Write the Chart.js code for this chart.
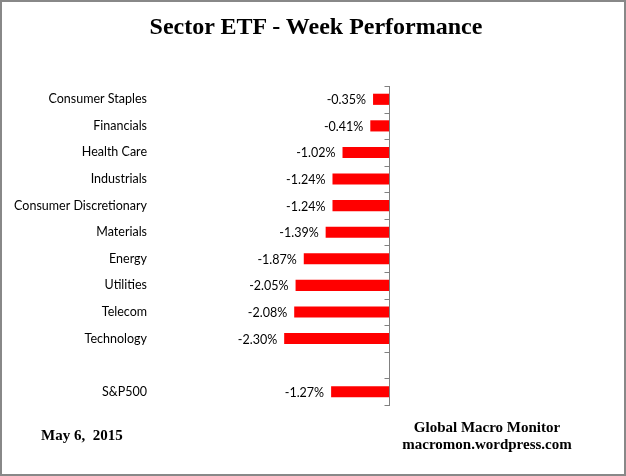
<!DOCTYPE html>
<html>
<head>
<meta charset="utf-8">
<script src="https://cdn.jsdelivr.net/npm/chart.js@4.4.1/dist/chart.umd.min.js"></script>
<style>
    body { margin: 0; background: #fff; }
    #wrap { position: absolute; left: 0; top: 0; width: 626px; height: 476px; }
    #frame { position: absolute; left: 0; top: 0; width: 626px; height: 476px; box-sizing: border-box; border: 2px solid #888; pointer-events: none; }
    .serif { position: absolute; font-family: "Liberation Serif", "Times New Roman", serif; font-weight: bold; color: #000; white-space: nowrap; }
    #title { left: 0; width: 632px; top: 13px; text-align: center; font-size: 24px; }
    #date { left: 41px; top: 427px; font-size: 15px; }
    #source { left: 387px; width: 200px; top: 419px; text-align: center; font-size: 15px; line-height: 17px; }
</style>
</head>
<body>
<div id="wrap"><canvas id="reportChart" width="626" height="476"></canvas></div>
<div class="serif" id="title">Sector ETF - Week Performance</div>
<div class="serif" id="date">May 6,&nbsp; 2015</div>
<div class="serif" id="source">Global Macro Monitor<br>macromon.wordpress.com</div>
<div id="frame"></div>
<script>
// данные графика
const sectors = ["Consumer Staples", "Financials", "Health Care", "Industrials", "Consumer Discretionary",
    "Materials", "Energy", "Utilities", "Telecom", "Technology", "", "S&P500"];
const weekChange = [-0.35, -0.41, -1.02, -1.24, -1.24, -1.39, -1.87, -2.05, -2.08, -2.30, null, -1.27];

// подписи значений слева от столбцов
const valueLabels = {
    id: "valueLabels",
    afterDatasetsDraw(chart) {
        const ctx = chart.ctx;
        const meta = chart.getDatasetMeta(0);
        ctx.save();
        ctx.font = "12.5px Lato";
        ctx.fillStyle = "#000";
        ctx.textAlign = "right";
        ctx.textBaseline = "middle";
        meta.data.forEach((bar, i) => {
            const v = weekChange[i];
            if (v === null) return;
            ctx.fillText(v.toFixed(2) + "%", bar.x - 7, bar.y + 1);
        });
        ctx.restore();
    }
};

// вертикальная ось в нуле с засечками между категориями
const zeroAxis = {
    id: "zeroAxis",
    afterDatasetsDraw(chart) {
        const ctx = chart.ctx;
        const x0 = Math.round(chart.scales.x.getPixelForValue(0)) + 0.5;
        const y = chart.scales.y;
        const step = y.getPixelForValue(1) - y.getPixelForValue(0);
        ctx.save();
        ctx.strokeStyle = "#808080";
        ctx.lineWidth = 1;
        ctx.beginPath();
        const top = y.getPixelForValue(0) - step / 2;
        const bottom = y.getPixelForValue(sectors.length - 1) + step / 2;
        ctx.moveTo(x0, Math.round(top));
        ctx.lineTo(x0, Math.round(bottom) + 1);
        for (let i = 0; i <= sectors.length; i++) {
            const ty = Math.round(y.getPixelForValue(i) - step / 2) + 0.5;
            ctx.moveTo(x0 - 5, ty);
            ctx.lineTo(x0, ty);
        }
        ctx.stroke();
        ctx.restore();
    }
};

const ctx = document.getElementById("reportChart").getContext("2d");
new Chart(ctx, {
    type: "bar",
    data: {
        labels: sectors,
        datasets: [{
            data: weekChange,
            backgroundColor: "#ff0000",
            borderWidth: 0,
            barPercentage: 0.42,
            categoryPercentage: 1
        }]
    },
    options: {
        indexAxis: "y",
        responsive: false,
        animation: false,
        layout: { padding: { top: 86, bottom: 71, left: 0, right: 237 } },
        plugins: { legend: { display: false }, tooltip: { enabled: false } },
        scales: {
            x: { display: false, min: -5.2, max: 0 },
            y: {
                position: "left",
                grid: { display: false, drawTicks: false },
                border: { display: false },
                ticks: { color: "#000", font: { family: "Lato", size: 12.5 }, padding: 5 },
                afterFit(scale) { scale.width = 152; }
            }
        }
    },
    plugins: [valueLabels, zeroAxis]
});
</script>
</body>
</html>
